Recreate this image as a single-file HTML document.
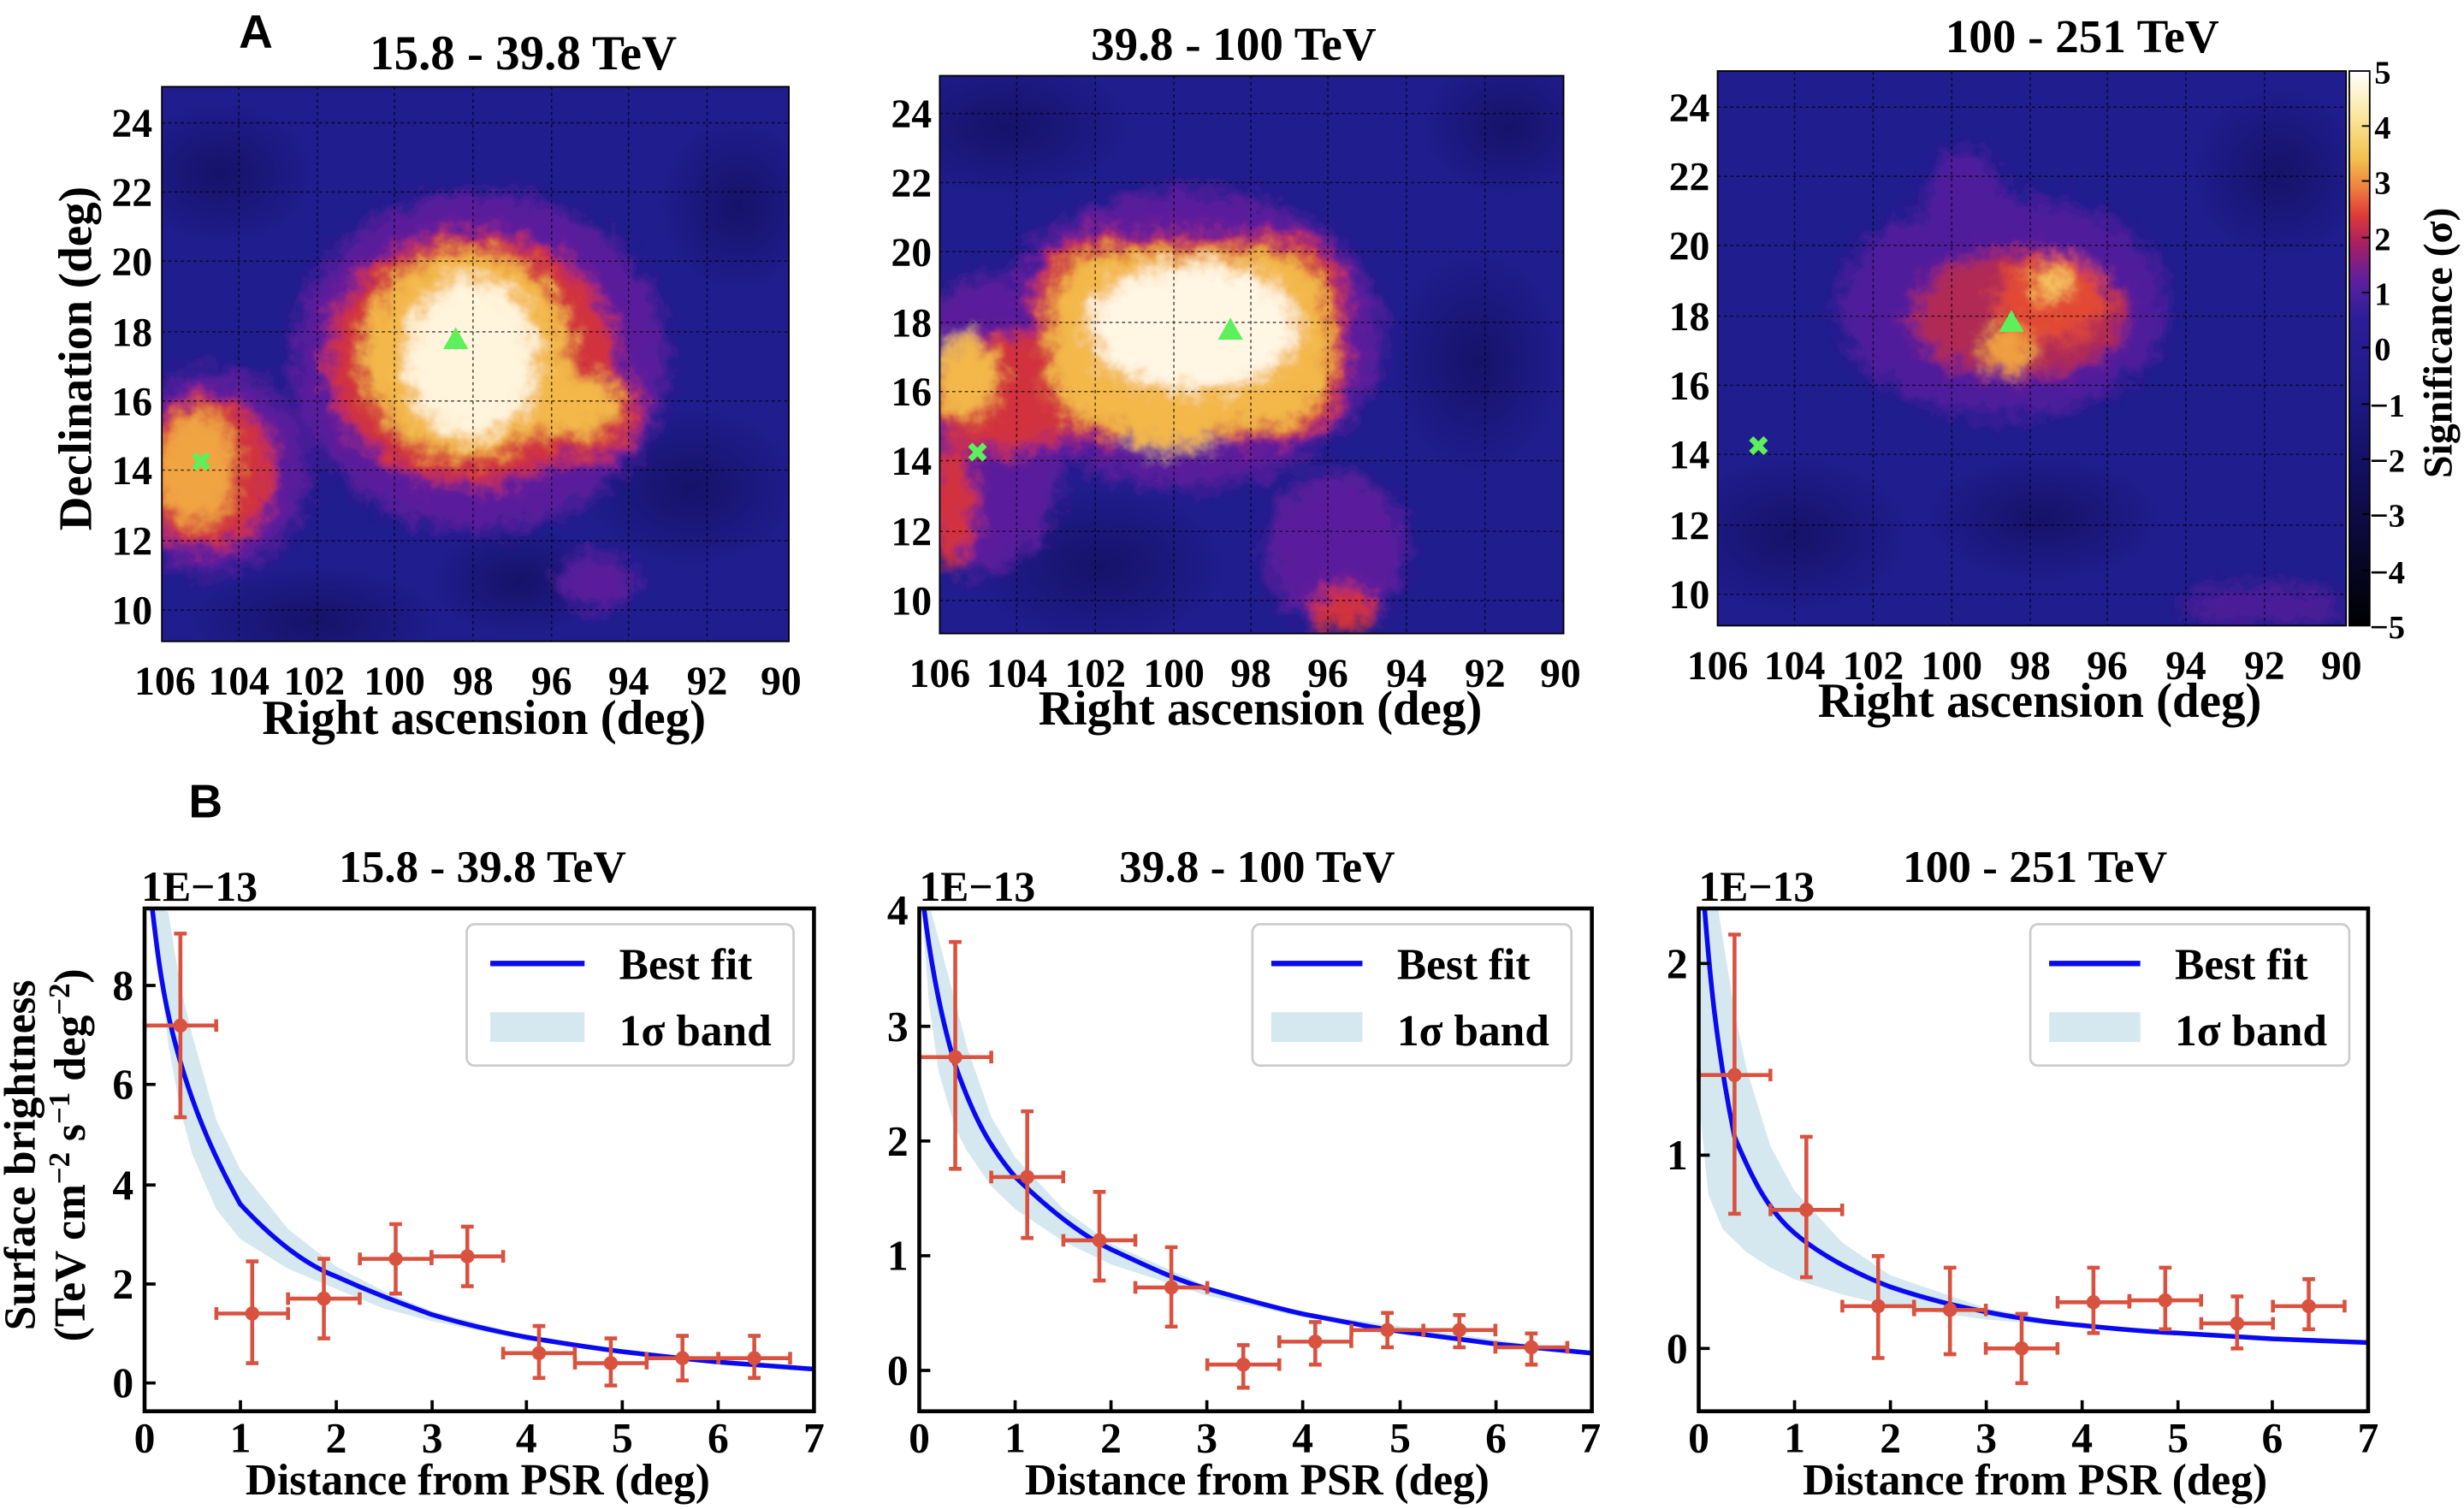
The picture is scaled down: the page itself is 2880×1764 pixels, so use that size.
<!DOCTYPE html>
<html><head><meta charset="utf-8"><style>
html,body{margin:0;padding:0;background:#fff}
svg{display:block}
text{font-family:"Liberation Serif",serif;font-weight:bold;fill:#000}
.s{font-family:"Liberation Sans",sans-serif}
</style></head><body>
<svg width="2880" height="1764" viewBox="0 0 1568 960" xmlns="http://www.w3.org/2000/svg">
<defs>
<filter id="rough" x="-20%" y="-20%" width="140%" height="140%">
<feGaussianBlur in="SourceGraphic" stdDeviation="5" result="b"/>
<feTurbulence type="fractalNoise" baseFrequency="0.09" numOctaves="3" seed="3" result="n"/>
<feDisplacementMap in="b" in2="n" scale="18" xChannelSelector="R" yChannelSelector="G"/>
</filter>
<radialGradient id="dk"><stop offset="0" stop-color="#12105e" stop-opacity="0.8"/><stop offset="1" stop-color="#12105e" stop-opacity="0"/></radialGradient>
<linearGradient id="cb" x1="0" y1="0" x2="0" y2="1">
<stop offset="0" stop-color="#ffffff"/><stop offset="0.08" stop-color="#fbe7a0"/>
<stop offset="0.16" stop-color="#f2bf4c"/><stop offset="0.21" stop-color="#ee8040"/>
<stop offset="0.26" stop-color="#df3b37"/><stop offset="0.31" stop-color="#a82063"/>
<stop offset="0.38" stop-color="#5c1f9e"/><stop offset="0.45" stop-color="#2a1e98"/>
<stop offset="0.58" stop-color="#1e1a86"/><stop offset="0.72" stop-color="#121060"/>
<stop offset="1" stop-color="#000000"/>
</linearGradient>
<clipPath id="c1"><rect x="103" y="55" width="399" height="353"/></clipPath>
<clipPath id="c2"><rect x="598" y="48" width="397" height="355"/></clipPath>
<clipPath id="c3"><rect x="1093" y="45" width="400" height="353"/></clipPath>
</defs>

<!-- ===== Panel A1 ===== -->
<text class="s" x="152" y="30" font-size="30">A</text>
<text x="333" y="44" font-size="31" text-anchor="middle">15.8 - 39.8 TeV</text>
<g clip-path="url(#c1)">
<rect x="103" y="55" width="399" height="353" fill="#201d8e"/>
<g fill="url(#dk)">
<ellipse cx="140" cy="110" rx="60" ry="45"/><ellipse cx="440" cy="310" rx="70" ry="50"/>
<ellipse cx="200" cy="395" rx="80" ry="35"/><ellipse cx="470" cy="130" rx="50" ry="55"/>
<ellipse cx="330" cy="370" rx="55" ry="35"/></g>
<g filter="url(#rough)">
<ellipse cx="305" cy="230" rx="120" ry="108" fill="#5a1f9c"/>
<ellipse cx="135" cy="300" rx="62" ry="65" fill="#5a1f9c"/>
<ellipse cx="380" cy="370" rx="25" ry="18" fill="#5a1f9c"/>
<ellipse cx="300" cy="228" rx="92" ry="80" fill="#d1303e"/>
<ellipse cx="368" cy="262" rx="40" ry="30" fill="#d1303e"/>
<ellipse cx="130" cy="300" rx="45" ry="48" fill="#d1303e"/>
<ellipse cx="297" cy="225" rx="66" ry="66" fill="#f3b84a"/>
<ellipse cx="365" cy="258" rx="30" ry="20" fill="#f3b84a"/>
<ellipse cx="125" cy="298" rx="26" ry="36" fill="#f0a442"/>
<ellipse cx="300" cy="228" rx="42" ry="50" fill="#fff4dc"/>
</g>
<g stroke="#000" stroke-width="0.8" stroke-dasharray="2,2" opacity="0.7">
<path d="M152 55V408M202 55V408M251 55V408M301 55V408M351 55V408M400 55V408M450 55V408"/>
<path d="M103 78H502M103 122H502M103 166H502M103 211H502M103 255H502M103 299H502M103 344H502M103 388H502"/>
</g>
</g>
<rect x="103" y="55" width="399" height="353" fill="none" stroke="#000" stroke-width="1"/>
<polygon points="290,208 282,222 298,222" fill="#5cf05a"/>
<text x="128" y="300" font-size="18" style="fill:#5cf05a;font-family:'DejaVu Sans',sans-serif" text-anchor="middle">✖</text>
<g font-size="26" text-anchor="end">
<text x="97" y="87">24</text><text x="97" y="131">22</text><text x="97" y="175">20</text><text x="97" y="220">18</text>
<text x="97" y="264">16</text><text x="97" y="308">14</text><text x="97" y="353">12</text><text x="97" y="397">10</text></g>
<g font-size="26" text-anchor="middle">
<text x="105" y="442">106</text><text x="152" y="442">104</text><text x="200" y="442">102</text><text x="251" y="442">100</text>
<text x="301" y="442">98</text><text x="351" y="442">96</text><text x="400" y="442">94</text><text x="450" y="442">92</text><text x="497" y="442">90</text></g>
<text x="308" y="467" font-size="31" text-anchor="middle">Right ascension (deg)</text>
<text transform="translate(58,228) rotate(-90)" font-size="30" text-anchor="middle">Declination (deg)</text>

<!-- ===== Panel A2 ===== -->
<text x="785" y="38" font-size="30" text-anchor="middle">39.8 - 100 TeV</text>
<g clip-path="url(#c2)">
<rect x="598" y="48" width="397" height="355" fill="#201d8e"/>
<g fill="url(#dk)">
<ellipse cx="640" cy="80" rx="80" ry="45"/><ellipse cx="700" cy="360" rx="80" ry="50"/>
<ellipse cx="940" cy="230" rx="55" ry="70"/><ellipse cx="960" cy="80" rx="55" ry="45"/></g>
<g filter="url(#rough)">
<ellipse cx="755" cy="215" rx="125" ry="95" fill="#5a1f9c"/>
<ellipse cx="625" cy="270" rx="55" ry="95" fill="#5a1f9c"/>
<ellipse cx="850" cy="350" rx="45" ry="50" fill="#5a1f9c"/>
<rect x="658" y="150" width="198" height="130" rx="40" fill="#d1303e"/>
<ellipse cx="640" cy="250" rx="50" ry="38" fill="#d1303e"/>
<ellipse cx="606" cy="320" rx="14" ry="40" fill="#d1303e"/>
<ellipse cx="855" cy="388" rx="20" ry="15" fill="#d1303e"/>
<rect x="668" y="160" width="178" height="112" rx="38" fill="#f3b84a"/>
<ellipse cx="745" cy="258" rx="40" ry="28" fill="#f3b84a"/>
<ellipse cx="615" cy="240" rx="20" ry="26" fill="#f3b84a"/>
<ellipse cx="760" cy="208" rx="66" ry="40" fill="#fff6e4"/>
</g>
<g stroke="#000" stroke-width="0.8" stroke-dasharray="2,2" opacity="0.7">
<path d="M647 48V403M697 48V403M747 48V403M796 48V403M845 48V403M895 48V403M945 48V403"/>
<path d="M598 72H995M598 116H995M598 160H995M598 205H995M598 249H995M598 293H995M598 338H995M598 382H995"/>
</g>
</g>
<rect x="598" y="48" width="397" height="355" fill="none" stroke="#000" stroke-width="1"/>
<polygon points="783,202 775,216 791,216" fill="#5cf05a"/>
<text x="622" y="294" font-size="18" style="fill:#5cf05a;font-family:'DejaVu Sans',sans-serif" text-anchor="middle">✖</text>
<g font-size="26" text-anchor="end">
<text x="593" y="81">24</text><text x="593" y="125">22</text><text x="593" y="169">20</text><text x="593" y="214">18</text>
<text x="593" y="258">16</text><text x="593" y="302">14</text><text x="593" y="347">12</text><text x="593" y="391">10</text></g>
<g font-size="26" text-anchor="middle">
<text x="598" y="437">106</text><text x="647" y="437">104</text><text x="697" y="437">102</text><text x="747" y="437">100</text>
<text x="796" y="437">98</text><text x="845" y="437">96</text><text x="895" y="437">94</text><text x="945" y="437">92</text><text x="993" y="437">90</text></g>
<text x="802" y="461" font-size="31" text-anchor="middle">Right ascension (deg)</text>

<!-- ===== Panel A3 ===== -->
<text x="1325" y="33" font-size="30" text-anchor="middle">100 - 251 TeV</text>
<g clip-path="url(#c3)">
<rect x="1093" y="45" width="400" height="353" fill="#201d8e"/>
<g fill="url(#dk)">
<ellipse cx="1140" cy="340" rx="75" ry="50"/><ellipse cx="1300" cy="330" rx="75" ry="40"/>
<ellipse cx="1450" cy="110" rx="55" ry="55"/></g>
<g filter="url(#rough)">
<ellipse cx="1275" cy="195" rx="105" ry="70" fill="#4f1f9c"/>
<ellipse cx="1250" cy="130" rx="25" ry="35" fill="#4f1f9c"/>
<ellipse cx="1440" cy="385" rx="50" ry="14" fill="#4c1f98"/>
<ellipse cx="1285" cy="200" rx="68" ry="40" fill="#b02a55"/>
<ellipse cx="1305" cy="190" rx="35" ry="28" fill="#e24a35"/>
<ellipse cx="1278" cy="222" rx="16" ry="14" fill="#f0a040"/>
<ellipse cx="1305" cy="180" rx="12" ry="10" fill="#f5c460"/>
</g>
<g stroke="#000" stroke-width="0.8" stroke-dasharray="2,2" opacity="0.7">
<path d="M1142 45V398M1192 45V398M1242 45V398M1292 45V398M1341 45V398M1391 45V398M1441 45V398"/>
<path d="M1093 68H1493M1093 112H1493M1093 156H1493M1093 201H1493M1093 245H1493M1093 289H1493M1093 334H1493M1093 378H1493"/>
</g>
</g>
<rect x="1093" y="45" width="400" height="353" fill="none" stroke="#000" stroke-width="1"/>
<polygon points="1280,197 1272,211 1288,211" fill="#5cf05a"/>
<text x="1119" y="290" font-size="18" style="fill:#5cf05a;font-family:'DejaVu Sans',sans-serif" text-anchor="middle">✖</text>
<g font-size="26" text-anchor="end">
<text x="1088" y="77">24</text><text x="1088" y="121">22</text><text x="1088" y="165">20</text><text x="1088" y="210">18</text>
<text x="1088" y="254">16</text><text x="1088" y="298">14</text><text x="1088" y="343">12</text><text x="1088" y="387">10</text></g>
<g font-size="26" text-anchor="middle">
<text x="1093" y="432">106</text><text x="1142" y="432">104</text><text x="1192" y="432">102</text><text x="1242" y="432">100</text>
<text x="1292" y="432">98</text><text x="1341" y="432">96</text><text x="1391" y="432">94</text><text x="1441" y="432">92</text><text x="1490" y="432">90</text></g>
<text x="1298" y="456" font-size="31" text-anchor="middle">Right ascension (deg)</text>
<!-- colorbar -->
<rect x="1495" y="45" width="13" height="353" fill="url(#cb)" stroke="#000" stroke-width="1"/>
<g stroke="#000" stroke-width="1"><path d="M1503 80h5M1503 115h5M1503 151h5M1503 186h5M1503 221h5M1503 257h5M1503 292h5M1503 327h5M1503 363h5"/></g>
<g font-size="21" text-anchor="start">
<text x="1511" y="53">5</text><text x="1511" y="88">4</text><text x="1511" y="123">3</text><text x="1511" y="159">2</text>
<text x="1511" y="194">1</text><text x="1511" y="229">0</text><text x="1508" y="265">−1</text><text x="1508" y="300">−2</text>
<text x="1508" y="335">−3</text><text x="1508" y="371">−4</text><text x="1508" y="406">−5</text></g>
<text transform="translate(1560,218) rotate(-90)" font-size="26" text-anchor="middle">Significance (σ)</text>

<!-- ===== Panel B ===== -->
<text class="s" x="120" y="520" font-size="30">B</text>

<!-- B1 -->
<text x="307" y="561" font-size="29" text-anchor="middle">15.8 - 39.8 TeV</text>
<text x="90" y="573" font-size="27">1E−13</text>
<path d="M107,580 L114.8,627.2 L122.4,658.8 L137.6,712.5 L152.9,744.1 L183.3,782 L213.7,805.7 L244.2,821.5 L274.6,834.2 L335.4,850 L396.3,859.8 L518,871.2 L396.3,861 L335.4,853.1 L274.6,840.5 L244.2,832.6 L213.7,820 L183.3,807.3 L152.9,788.4 L137.6,769.4 L122.4,734.6 L114.8,706.2 L107.2,665.1 L101.1,611.4 L98,578 Z" fill="#d5e8ef"/>
<path d="M96.9,578.2 C100,605 103,630 110,658 C118,690 130,725 152.9,766.2 C175,790 195,805 213.7,812.1 C240,824 260,831 274.6,836.4 C300,844 320,848 335.4,850.9 C365,856 380,858 396.3,860.1 C430,864 450,866 457.2,866.7 L518,871.2" fill="none" stroke="#0a0af0" stroke-width="3"/>
<g stroke="#d9523f" stroke-width="2.5" fill="none">
<path d="M92 652.5h45.6M114.8 594V710.9M92 648.5v8M137.6 648.5v8M110.8 594h8M110.8 710.9h8"/>
<path d="M137.7 835.8h45.6M160.5 802.6V867.4M137.7 831.8v8M183.3 831.8v8M156.5 802.6h8M156.5 867.4h8"/>
<path d="M183.3 826.3h45.6M206.1 801V851.6M183.3 822.3v8M228.9 822.3v8M202.1 801h8M202.1 851.6h8"/>
<path d="M229 801h45.6M251.8 778.9V823.1M229 797v8M274.6 797v8M247.8 778.9h8M247.8 823.1h8"/>
<path d="M274.6 799.4h45.6M297.4 780.5V818.4M274.6 795.4v8M320.2 795.4v8M293.4 780.5h8M293.4 818.4h8"/>
<path d="M320.2 861h45.6M343 843.7V876.8M320.2 857v8M365.8 857v8M339 843.7h8M339 876.8h8"/>
<path d="M365.9 867.4h45.6M388.7 851.6V881.6M365.9 863.4v8M411.5 863.4v8M384.7 851.6h8M384.7 881.6h8"/>
<path d="M411.5 864.2h45.6M434.3 850V878.4M411.5 860.2v8M457.1 860.2v8M430.3 850h8M430.3 878.4h8"/>
<path d="M457.2 864.2h45.6M480 850V876.8M457.2 860.2v8M502.8 860.2v8M476 850h8M476 876.8h8"/>
</g>
<g fill="#d9523f"><circle cx="114.8" cy="652.5" r="4.5"/><circle cx="160.5" cy="835.8" r="4.5"/><circle cx="206.1" cy="826.3" r="4.5"/><circle cx="251.8" cy="801" r="4.5"/><circle cx="297.4" cy="799.4" r="4.5"/><circle cx="343" cy="861" r="4.5"/><circle cx="388.7" cy="867.4" r="4.5"/><circle cx="434.3" cy="864.2" r="4.5"/><circle cx="480" cy="864.2" r="4.5"/></g>
<rect x="92" y="578" width="426" height="320" fill="none" stroke="#000" stroke-width="2.5"/>
<g stroke="#000" stroke-width="2"><path d="M153 898v-7M214 898v-7M275 898v-7M335 898v-7M396 898v-7M457 898v-7M92 880h7M92 817h7M92 754h7M92 690h7M92 627h7"/></g>
<g font-size="27" text-anchor="end"><text x="85" y="889">0</text><text x="85" y="826">2</text><text x="85" y="763">4</text><text x="85" y="699">6</text><text x="85" y="636">8</text></g>
<g font-size="27" text-anchor="middle"><text x="92" y="924">0</text><text x="153" y="924">1</text><text x="214" y="924">2</text><text x="275" y="924">3</text><text x="335" y="924">4</text><text x="396" y="924">5</text><text x="457" y="924">6</text><text x="518" y="924">7</text></g>
<text x="304" y="951" font-size="28" text-anchor="middle">Distance from PSR (deg)</text>
<rect x="297" y="588" width="208" height="90" rx="5" fill="#fff" stroke="#ccc" stroke-width="1.5"/>
<path d="M312 613H372" stroke="#0a0af0" stroke-width="3.5"/><rect x="312" y="644" width="60" height="19" fill="#d5e8ef"/>
<text x="394" y="623" font-size="28">Best fit</text><text x="394" y="665" font-size="28">1σ band</text>
<text transform="translate(22,735) rotate(-90)" font-size="28" text-anchor="middle">Surface brightness</text>
<text transform="translate(54,735) rotate(-90)" font-size="28" text-anchor="middle">(TeV cm<tspan dy="-10" font-size="19">−2</tspan><tspan dy="10"> s</tspan><tspan dy="-10" font-size="19">−1</tspan><tspan dy="10"> deg</tspan><tspan dy="-10" font-size="19">−2</tspan><tspan dy="10">)</tspan></text>

<!-- B2 -->
<text x="800" y="561" font-size="29" text-anchor="middle">39.8 - 100 TeV</text>
<text x="585" y="573" font-size="27">1E−13</text>
<path d="M592.3,578.8 L607.9,637.4 L615.6,666.8 L630.8,710.7 L646.1,736.4 L676.7,769.4 L707.2,791.4 L768.3,818.5 L829.4,835.3 L1012.7,861 L829.4,838.3 L768.3,824.4 L707.2,804.6 L676.7,789.9 L646.1,769.4 L630.8,754.7 L615.6,732.7 L607.9,718.1 L597.2,681.4 L591.1,637.4 L586.8,578.8 Z" fill="#d5e8ef"/>
<path d="M588.1,578.8 C592,610 598,645 607.9,677.8 C620,712 630,730 646.1,748.9 C670,772 690,787 707.2,795 C735,808 750,815 768.3,820 C800,829 815,833 829.4,836.1 C860,842 875,845 890.5,847.1 C920,851 940,853.5 951.6,855.1 L1012.7,861" fill="none" stroke="#0a0af0" stroke-width="3"/>
<g stroke="#d9523f" stroke-width="2.5" fill="none">
<path d="M585 672.6h45.8M607.9 599.3V743.7M585 668.6v8M630.8 668.6v8M603.9 599.3h8M603.9 743.7h8"/>
<path d="M630.8 748.9h45.8M653.7 707.1V787.7M630.8 744.9v8M676.6 744.9v8M649.7 707.1h8M649.7 787.7h8"/>
<path d="M676.7 789.2h45.8M699.6 758.4V814.8M676.7 785.2v8M722.5 785.2v8M695.6 758.4h8M695.6 814.8h8"/>
<path d="M722.5 819.2h45.8M745.4 793.6V844.1M722.5 815.2v8M768.3 815.2v8M741.4 793.6h8M741.4 844.1h8"/>
<path d="M768.3 868.3h45.8M791.2 855.9V883M768.3 864.3v8M814.1 864.3v8M787.2 855.9h8M787.2 883h8"/>
<path d="M814.1 853.7h45.8M837 841.2V868.3M814.1 849.7v8M859.9 849.7v8M833 841.2h8M833 868.3h8"/>
<path d="M860 846.3h45.8M882.9 835.4V857.3M860 842.3v8M905.8 842.3v8M878.9 835.4h8M878.9 857.3h8"/>
<path d="M905.8 846.3h45.8M928.7 836.8V857.3M905.8 842.3v8M951.6 842.3v8M924.7 836.8h8M924.7 857.3h8"/>
<path d="M951.6 857.3h45.8M974.5 848.5V868.3M951.6 853.3v8M997.4 853.3v8M970.5 848.5h8M970.5 868.3h8"/>
</g>
<g fill="#d9523f"><circle cx="607.9" cy="672.6" r="4.5"/><circle cx="653.7" cy="748.9" r="4.5"/><circle cx="699.6" cy="789.2" r="4.5"/><circle cx="745.4" cy="819.2" r="4.5"/><circle cx="791.2" cy="868.3" r="4.5"/><circle cx="837" cy="853.7" r="4.5"/><circle cx="882.9" cy="846.3" r="4.5"/><circle cx="928.7" cy="846.3" r="4.5"/><circle cx="974.5" cy="857.3" r="4.5"/></g>
<rect x="585" y="578" width="428" height="320" fill="none" stroke="#000" stroke-width="2.5"/>
<g stroke="#000" stroke-width="2"><path d="M646 898v-7M707 898v-7M768 898v-7M829 898v-7M891 898v-7M952 898v-7M585 872h7M585 799h7M585 726h7M585 653h7"/></g>
<g font-size="27" text-anchor="end"><text x="578" y="881">0</text><text x="578" y="808">1</text><text x="578" y="735">2</text><text x="578" y="662">3</text><text x="578" y="588">4</text></g>
<g font-size="27" text-anchor="middle"><text x="585" y="924">0</text><text x="646" y="924">1</text><text x="707" y="924">2</text><text x="768" y="924">3</text><text x="829" y="924">4</text><text x="891" y="924">5</text><text x="952" y="924">6</text><text x="1012" y="924">7</text></g>
<text x="800" y="951" font-size="28" text-anchor="middle">Distance from PSR (deg)</text>
<rect x="797" y="588" width="203" height="90" rx="5" fill="#fff" stroke="#ccc" stroke-width="1.5"/>
<path d="M809 613H867" stroke="#0a0af0" stroke-width="3.5"/><rect x="809" y="644" width="58" height="19" fill="#d5e8ef"/>
<text x="889" y="623" font-size="28">Best fit</text><text x="889" y="665" font-size="28">1σ band</text>

<!-- B3 -->
<text x="1295" y="561" font-size="29" text-anchor="middle">100 - 251 TeV</text>
<text x="1081" y="573" font-size="27">1E−13</text>
<path d="M1093.2,577.5 L1103.8,643.6 L1111.5,680.4 L1126.7,729.4 L1141.9,757.5 L1172.4,790.6 L1202.8,811.4 L1263.7,832.3 L1324.6,843.3 L1507.3,854.3 L1324.6,844.5 L1263.7,839.6 L1202.8,831 L1172.4,823.7 L1141.9,813.9 L1126.7,806.6 L1111.5,796.8 L1096.2,782 L1087.1,760 L1082.2,711 L1082.2,577.5 Z" fill="#d5e8ef"/>
<path d="M1084.7,577.5 C1088,620 1092,665 1103.8,723.3 C1115,750 1125,770 1141.9,784.5 C1160,800 1185,812 1202.8,818.8 C1230,828 1250,832 1263.7,834.7 C1290,840 1310,842 1324.6,843.3 C1350,846 1370,847.5 1385.5,848.2 L1446.4,851.9 L1507.3,854.3" fill="none" stroke="#0a0af0" stroke-width="3"/>
<g stroke="#d9523f" stroke-width="2.5" fill="none">
<path d="M1081 684h45.6M1103.8 594.6V772.3M1081 680v8M1126.6 680v8M1099.8 594.6h8M1099.8 772.3h8"/>
<path d="M1126.7 769.8h45.6M1149.5 723.3V812.7M1126.7 765.8v8M1172.3 765.8v8M1145.5 723.3h8M1145.5 812.7h8"/>
<path d="M1172.4 831.1h45.6M1195.2 799.2V864.1M1172.4 827.1v8M1218 827.1v8M1191.2 799.2h8M1191.2 864.1h8"/>
<path d="M1218.1 833.5h45.6M1240.9 806.6V861.7M1218.1 829.5v8M1263.7 829.5v8M1236.9 806.6h8M1236.9 861.7h8"/>
<path d="M1263.7 858h45.6M1286.5 836V880.1M1263.7 854v8M1309.3 854v8M1282.5 836h8M1282.5 880.1h8"/>
<path d="M1309.4 828.6h45.6M1332.2 806.6V848.2M1309.4 824.6v8M1355 824.6v8M1328.2 806.6h8M1328.2 848.2h8"/>
<path d="M1355.1 827.4h45.6M1377.9 806.6V845.8M1355.1 823.4v8M1400.7 823.4v8M1373.9 806.6h8M1373.9 845.8h8"/>
<path d="M1400.8 842.1h45.6M1423.6 824.9V858M1400.8 838.1v8M1446.4 838.1v8M1419.6 824.9h8M1419.6 858h8"/>
<path d="M1446.4 831.1h45.6M1469.2 813.9V845.8M1446.4 827.1v8M1492 827.1v8M1465.2 813.9h8M1465.2 845.8h8"/>
</g>
<g fill="#d9523f"><circle cx="1103.8" cy="684" r="4.5"/><circle cx="1149.5" cy="769.8" r="4.5"/><circle cx="1195.2" cy="831.1" r="4.5"/><circle cx="1240.9" cy="833.5" r="4.5"/><circle cx="1286.5" cy="858" r="4.5"/><circle cx="1332.2" cy="828.6" r="4.5"/><circle cx="1377.9" cy="827.4" r="4.5"/><circle cx="1423.6" cy="842.1" r="4.5"/><circle cx="1469.2" cy="831.1" r="4.5"/></g>
<rect x="1081" y="578" width="426" height="320" fill="none" stroke="#000" stroke-width="2.5"/>
<g stroke="#000" stroke-width="2"><path d="M1142 898v-7M1203 898v-7M1264 898v-7M1325 898v-7M1386 898v-7M1446 898v-7M1081 858h7M1081 735h7M1081 613h7"/></g>
<g font-size="27" text-anchor="end"><text x="1074" y="867">0</text><text x="1074" y="744">1</text><text x="1074" y="622">2</text></g>
<g font-size="27" text-anchor="middle"><text x="1081" y="924">0</text><text x="1142" y="924">1</text><text x="1203" y="924">2</text><text x="1264" y="924">3</text><text x="1325" y="924">4</text><text x="1386" y="924">5</text><text x="1446" y="924">6</text><text x="1507" y="924">7</text></g>
<text x="1295" y="951" font-size="28" text-anchor="middle">Distance from PSR (deg)</text>
<rect x="1292" y="588" width="203" height="90" rx="5" fill="#fff" stroke="#ccc" stroke-width="1.5"/>
<path d="M1304 613H1362" stroke="#0a0af0" stroke-width="3.5"/><rect x="1304" y="644" width="58" height="19" fill="#d5e8ef"/>
<text x="1384" y="623" font-size="28">Best fit</text><text x="1384" y="665" font-size="28">1σ band</text>
</svg>
</body></html>
